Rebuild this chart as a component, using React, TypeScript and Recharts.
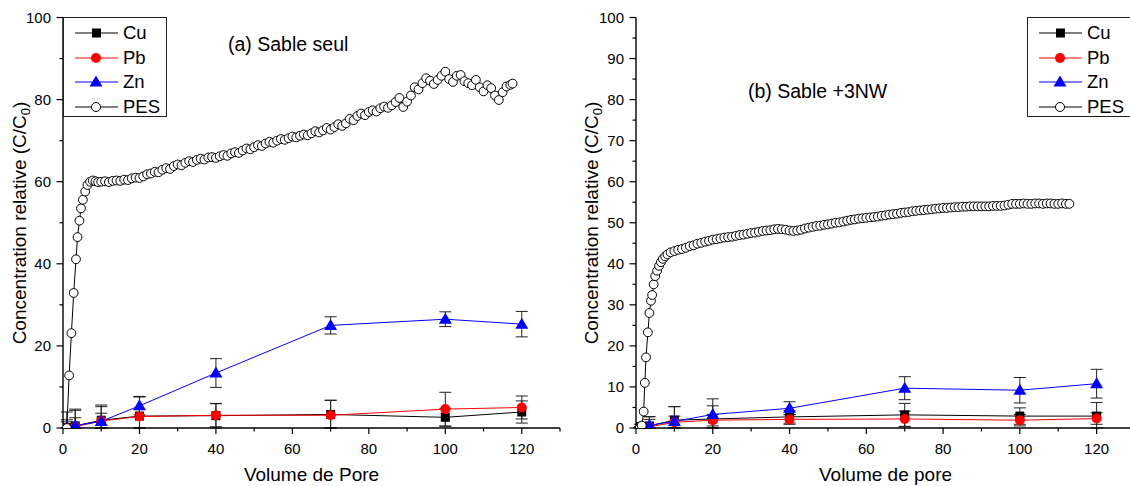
import React from 'react';
import { ComposedChart, Line, XAxis, YAxis, ErrorBar, Legend, Label } from 'recharts';

// ---- (a) Sable seul ----
const metalVolA = [1, 3.2, 10, 20, 40, 70, 100, 120];
const cuA = [0.1, 0.5, 1.9, 2.9, 3.0, 3.3, 2.6, 3.9];
const cuErrA = [3.8, 2.0, 3.7, 4.8, 3.0, 3.5, 2.2, 2.7];
const pbA = [0, 0.3, 1.7, 2.8, 3.1, 3.1, 4.6, 5.0];
const pbErrA = [2.0, 4.0, 3.5, 4.8, 2.8, 3.6, 4.1, 2.8];
const znA = [0, 0.6, 1.6, 5.4, 13.4, 25.0, 26.5, 25.3];
const znErrA = [1.5, 4.0, 2.0, 2.2, 3.5, 2.1, 1.8, 3.1];

const pesVolA = [
  1.0, 1.6, 2.2, 2.8, 3.4, 3.8, 4.3, 4.7, 5.2, 5.8, 6.4, 7.1, 7.8, 8.5, 9.2,
  10, 11, 12, 13, 14, 15, 16, 17, 18, 19, 20, 21, 22, 23, 24, 25, 26, 27, 28, 29,
  30, 31, 32, 33, 34, 35, 36, 37, 38, 39, 40, 41, 42, 43, 44, 45, 46, 47, 48, 49,
  50, 51, 52, 53, 54, 55, 56, 57, 58, 59, 60, 61, 62, 63, 64, 65, 66, 67, 68, 69,
  70, 71, 72, 73, 74, 75, 76, 77, 78, 79, 80, 81, 82, 83, 84, 85, 86, 87, 88, 89,
  90, 91, 92, 93, 94, 95, 96, 97, 98, 99, 100, 101, 102, 103, 104, 105, 106, 107,
  108, 109, 110, 111, 112, 113, 114, 115, 116, 117, 117.6,
];
const pesA = [
  0, 12.8, 23.1, 32.9, 41.1, 46.5, 50.5, 53.5, 55.6, 57.6, 59.2, 60.0, 60.3, 60.1, 59.9,
  60.0, 60.1, 59.9, 60.2, 60.3, 60.2, 60.5, 60.4, 60.8, 61.0, 60.9, 61.3, 61.8, 62.0, 62.4,
  62.3, 62.9, 63.3, 63.1, 63.8, 64.2, 64.0, 64.6, 65.0, 64.8, 65.3, 65.6, 65.4, 65.9, 66.0,
  65.8, 66.2, 66.5, 66.3, 66.9, 67.2, 67.0, 67.6, 68.1, 67.9, 68.4, 68.9, 68.7, 69.3, 69.7,
  69.5, 70.0, 70.4, 70.2, 70.6, 71.0, 70.8, 71.2, 71.5, 71.3, 71.8, 72.3, 72.0, 72.5, 73.1,
  72.7, 73.3, 74.0, 73.6, 74.2, 75.3, 75.0, 76.0, 76.6, 76.2, 77.0, 77.4, 77.1, 77.9, 78.3,
  78.0, 78.6, 79.4, 80.4, 78.2, 79.5, 81.0, 83.0, 82.5, 84.0, 85.2, 84.6, 83.8, 84.8, 85.8,
  86.8, 85.0, 84.3, 85.8, 86.0, 84.5, 84.0, 83.5, 84.8, 83.0, 82.0, 83.5, 82.8, 81.0, 79.9,
  81.8, 83.2, 83.6, 83.9,
];

// ---- (b) Sable +3NW ----
const metalVolB = [1, 3.5, 10, 20, 40, 70, 100, 120];
const cuB = [0.4, 0.5, 1.9, 2.2, 2.7, 3.2, 2.9, 2.9];
const cuErrB = [0.5, 2.3, 3.3, 3.2, 1.5, 2.8, 2.0, 3.3];
const pbB = [0, 0.3, 1.4, 1.9, 2.1, 2.2, 1.9, 2.3];
const pbErrB = [0.3, 1.8, 1.5, 1.4, 1.2, 1.9, 1.4, 1.4];
const znB = [0, 0.7, 1.6, 3.3, 4.8, 9.7, 9.2, 10.8];
const znErrB = [0.3, 2.0, 3.6, 3.8, 1.6, 2.8, 3.1, 3.5];

const pesVolB = [
  1.0, 1.5, 2.0, 2.3, 2.6, 3.1, 3.5, 3.9, 4.2, 4.6, 5.0, 5.5, 6.0, 6.5, 7.0, 7.6, 8.2,
  9, 10, 11, 12, 13, 14, 15, 16, 17, 18, 19, 20, 21, 22, 23, 24, 25, 26, 27, 28, 29,
  30, 31, 32, 33, 34, 35, 36, 37, 38, 39, 40, 41, 42, 43, 44, 45, 46, 47, 48, 49,
  50, 51, 52, 53, 54, 55, 56, 57, 58, 59, 60, 61, 62, 63, 64, 65, 66, 67, 68, 69,
  70, 71, 72, 73, 74, 75, 76, 77, 78, 79, 80, 81, 82, 83, 84, 85, 86, 87, 88, 89,
  90, 91, 92, 93, 94, 95, 96, 97, 98, 99, 100, 101, 102, 103, 104, 105, 106, 107,
  108, 109, 110, 111, 112, 112.9,
];
const pesB = [
  0, 0.6, 4.0, 11.0, 17.2, 23.3, 28.0, 31.0, 32.4, 35.0, 37.0, 38.3, 39.5, 40.4, 41.2, 41.8, 42.3,
  42.8, 43.1, 43.4, 43.6, 43.9, 44.3, 44.5, 44.9, 45.1, 45.4, 45.6, 45.9, 46.0, 46.2, 46.4, 46.5,
  46.6, 46.8, 47.0, 47.1, 47.3, 47.5, 47.6, 47.8, 48.0, 48.1, 48.2, 48.4, 48.5, 48.4, 48.3, 48.1,
  48.0, 48.1, 48.3, 48.6, 48.8, 49.0, 49.2, 49.3, 49.5, 49.6, 49.8, 50.0, 50.1, 50.3, 50.5, 50.7,
  50.8, 51.0, 51.1, 51.2, 51.3, 51.4, 51.5, 51.7, 51.8, 52.0, 52.1, 52.2, 52.4, 52.5, 52.6, 52.8,
  52.9, 53.0, 53.1, 53.2, 53.3, 53.4, 53.5, 53.6, 53.6, 53.7, 53.8, 53.8, 53.9, 53.9, 54.0, 54.0,
  54.0, 54.0, 54.0, 54.0, 54.1, 54.1, 54.1, 54.2, 54.4, 54.6, 54.6, 54.6, 54.7, 54.6, 54.6, 54.7,
  54.7, 54.6, 54.7, 54.7, 54.6, 54.6, 54.7, 54.6, 54.6,
];

const xTicks = [0, 10, 20, 30, 40, 50, 60, 70, 80, 90, 100, 110, 120, 130];
const yTicksA = [0, 10, 20, 30, 40, 50, 60, 70, 80, 90, 100];
const yTicksB = [0, 5, 10, 15, 20, 25, 30, 35, 40, 45, 50, 55, 60, 65, 70, 75, 80, 85, 90, 95, 100];

const FONT = '"Liberation Sans", Arial, Helvetica, sans-serif';
const H = 486;
const PLOT_TOP = 17.5;
const PLOT_BOTTOM = 428;

// error bars are cut at the x axis, so the lower arm never goes below 0
const rows = (xs: number[], ys: number[], errs?: number[]) =>
  xs.map((x, i) => ({
    x,
    y: ys[i],
    err: errs ? [Math.min(errs[i], ys[i]), errs[i]] : [0, 0],
  }));

const SquareDot = (p: any) =>
  p.cx == null ? null : (
    <rect key={`s${p.index}`} x={p.cx - 4.5} y={p.cy - 4.5} width={9} height={9} fill="#000" />
  );
const TriangleDot = (p: any) =>
  p.cx == null ? null : (
    <path key={`t${p.index}`} d={`M${p.cx},${p.cy - 6.5} L${p.cx + 6.5},${p.cy + 4.5} L${p.cx - 6.5},${p.cy + 4.5} Z`} fill="#0000ff" />
  );

const legendItems = [
  { name: 'Cu', color: '#000' },
  { name: 'Pb', color: '#ff0000' },
  { name: 'Zn', color: '#0000ff' },
  { name: 'PES', color: '#000' },
];

const LegendMarker = ({ name }: { name: string }) => {
  if (name === 'Cu') return <rect x={28} y={7.5} width={9} height={9} fill="#000" />;
  if (name === 'Pb') return <circle cx={32} cy={12} r={5} fill="#ff0000" />;
  if (name === 'Zn') return <path d="M32,5.5 L38.5,16.5 L25.5,16.5 Z" fill="#0000ff" />;
  return <circle cx={32} cy={12} r={4.5} fill="#fff" stroke="#000" />;
};

const LegendBox = () => (
  <div
    style={{
      width: 104,
      height: 100,
      boxSizing: 'border-box',
      border: '1px solid #222',
      background: '#fff',
      paddingTop: 3,
      fontFamily: FONT,
      color: '#000',
    }}
  >
    {legendItems.map((item) => (
      <div key={item.name} style={{ height: 24.5, display: 'flex', alignItems: 'center' }}>
        <svg width={59} height={24} style={{ flex: 'none' }}>
          <line x1={11} x2={54} y1={12} y2={12} stroke={item.color} strokeWidth={1} />
          <LegendMarker name={item.name} />
        </svg>
        <span style={{ fontSize: 18.5, lineHeight: '24px' }}>{item.name}</span>
      </div>
    ))}
  </div>
);

interface PanelProps {
  metalX: number[];
  cu: number[];
  cuErr: number[];
  pb: number[];
  pbErr: number[];
  zn: number[];
  znErr: number[];
  pesX: number[];
  pes: number[];
  yTicks: number[];
  yMajor: number;
  note: string;
  noteX: number;
  noteY: number;
  xTitle: string;
  legendLeft: number;
  width: number;
  yAxisWidth: number;
  left: number;
}

function Panel(props: PanelProps) {
  const { width, yAxisWidth, left } = props;
  const plotLeft = yAxisWidth;
  const plotRight = width - 10;
  const xMid = (plotLeft + plotRight) / 2;

  const XTick = (t: any) => {
    const v = t.payload.value;
    const major = v % 20 === 0;
    return (
      <g>
        <line x1={t.x} x2={t.x} y1={PLOT_BOTTOM} y2={PLOT_BOTTOM + (major ? 6 : 3.5)} stroke="#000" strokeWidth={1.2} />
        {major && v <= 120 && (
          <text x={t.x} y={PLOT_BOTTOM + 25.5} textAnchor="middle" fontSize={15} fontFamily={FONT} fill="#000">
            {v}
          </text>
        )}
      </g>
    );
  };

  const YTick = (t: any) => {
    const v = t.payload.value;
    const major = v % props.yMajor === 0;
    return (
      <g>
        <line x1={plotLeft - (major ? 6.5 : 3.5)} x2={plotLeft} y1={t.y} y2={t.y} stroke="#000" strokeWidth={1.2} />
        {major && (
          <text x={plotLeft - 12} y={t.y} dy={5.3} textAnchor="end" fontSize={15} fontFamily={FONT} fill="#000">
            {v}
          </text>
        )}
      </g>
    );
  };

  const yTitle = () => (
    <text
      transform={`rotate(-90, 19, 223)`}
      x={19}
      y={223}
      dy={6.6}
      textAnchor="middle"
      fontSize={19}
      fontFamily={FONT}
      fill="#000"
    >
      Concentration relative (C/C
      <tspan dy={4} fontSize={13}>0</tspan>
      <tspan dy={-4}>)</tspan>
    </text>
  );

  const xTitle = () => (
    <text x={xMid} y={481} textAnchor="middle" fontSize={19} fontFamily={FONT} fill="#000">
      {props.xTitle}
    </text>
  );

  const note = () => (
    <text x={props.noteX} y={props.noteY} textAnchor="start" fontSize={19.5} fontFamily={FONT} fill="#000">
      {props.note}
    </text>
  );

  return (
    <div style={{ position: 'absolute', left, top: 0 }}>
      <ComposedChart
        width={width}
        height={H}
        margin={{ top: PLOT_TOP, right: 10, bottom: 0, left: 0 }}
      >
        <XAxis
          dataKey="x"
          type="number"
          domain={[0, 130]}
          ticks={xTicks}
          interval={0}
          allowDataOverflow
          height={H - PLOT_BOTTOM}
          tickLine={false}
          tick={XTick}
          axisLine={{ stroke: '#000', strokeWidth: 1.4 }}
        >
          <Label content={xTitle} />
          <Label content={note} />
        </XAxis>
        <XAxis
          xAxisId="top"
          orientation="top"
          type="number"
          domain={[0, 130]}
          ticks={xTicks}
          interval={0}
          height={0}
          mirror
          tick={false}
          tickSize={3}
          stroke="#000"
          axisLine={{ stroke: '#000', strokeWidth: 1.4 }}
        />
        <YAxis
          type="number"
          domain={[0, 100]}
          ticks={props.yTicks}
          interval={0}
          allowDataOverflow
          width={yAxisWidth}
          tickLine={false}
          tick={YTick}
          axisLine={{ stroke: '#000', strokeWidth: 1.4 }}
        >
          <Label content={yTitle} />
        </YAxis>
        <YAxis
          yAxisId="right"
          orientation="right"
          type="number"
          domain={[0, 100]}
          ticks={yTicksA}
          interval={0}
          width={0}
          tick={false}
          tickSize={4}
          stroke="#000"
          axisLine={{ stroke: '#000', strokeWidth: 1.4 }}
        />
        <Line
          data={rows(props.metalX, props.cu, props.cuErr)}
          dataKey="y"
          name="Cu"
          stroke="#000"
          strokeWidth={1}
          dot={SquareDot}
          activeDot={false}
          isAnimationActive={false}
        >
          <ErrorBar dataKey="err" width={6} stroke="#222" strokeWidth={1} direction="y" />
        </Line>
        <Line
          data={rows(props.metalX, props.pb, props.pbErr)}
          dataKey="y"
          name="Pb"
          stroke="#ff0000"
          strokeWidth={1}
          dot={{ r: 5, fill: '#ff0000', stroke: '#ff0000', strokeWidth: 0 }}
          activeDot={false}
          isAnimationActive={false}
        >
          <ErrorBar dataKey="err" width={6} stroke="#222" strokeWidth={1} direction="y" />
        </Line>
        <Line
          data={rows(props.metalX, props.zn, props.znErr)}
          dataKey="y"
          name="Zn"
          stroke="#0000ff"
          strokeWidth={1}
          dot={TriangleDot}
          activeDot={false}
          isAnimationActive={false}
        >
          <ErrorBar dataKey="err" width={6} stroke="#222" strokeWidth={1} direction="y" />
        </Line>
        <Line
          data={rows(props.pesX, props.pes)}
          dataKey="y"
          name="PES"
          stroke="#000"
          strokeWidth={1}
          dot={{ r: 4.4, fill: '#fff', stroke: '#000', strokeWidth: 1 }}
          activeDot={false}
          isAnimationActive={false}
        />
        <Legend
          layout="vertical"
          align="center"
          verticalAlign="middle"
          content={() => <LegendBox />}
          wrapperStyle={{ position: 'absolute', left: props.legendLeft, top: 17, width: 104, height: 100 }}
        />
      </ComposedChart>
    </div>
  );
}

export default function App() {
  return (
    <div
      style={{
        position: 'absolute',
        left: 0,
        top: 0,
        width: 1130,
        height: 486,
        overflow: 'hidden',
        background: '#fff',
      }}
    >
      <Panel
        metalX={metalVolA}
        cu={cuA}
        cuErr={cuErrA}
        pb={pbA}
        pbErr={pbErrA}
        zn={znA}
        znErr={znErrA}
        pesX={pesVolA}
        pes={pesA}
        yTicks={yTicksA}
        yMajor={20}
        note="(a) Sable seul"
        noteX={228}
        noteY={51}
        xTitle="Volume de Pore"
        legendLeft={63}
        width={570}
        yAxisWidth={63}
        left={0}
      />
      <Panel
        metalX={metalVolB}
        cu={cuB}
        cuErr={cuErrB}
        pb={pbB}
        pbErr={pbErrB}
        zn={znB}
        znErr={znErrB}
        pesX={pesVolB}
        pes={pesB}
        yTicks={yTicksB}
        yMajor={10}
        note="(b) Sable +3NW"
        noteX={176}
        noteY={98}
        xTitle="Volume de pore"
        legendLeft={455}
        width={573}
        yAxisWidth={64}
        left={572}
      />
    </div>
  );
}
